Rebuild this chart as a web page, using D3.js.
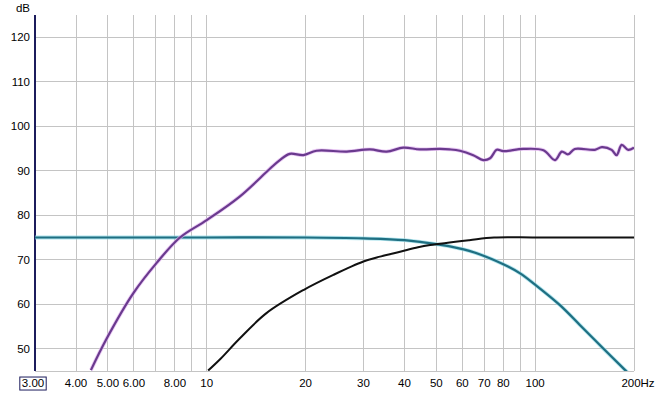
<!DOCTYPE html>
<html>
<head>
<meta charset="utf-8">
<script src="https://cdn.jsdelivr.net/npm/d3@7"></script>
<style>
  body { margin: 0; background: #fff; }
  text { font-family: "Liberation Sans", Arial, sans-serif; font-size: 11.5px; fill: #000; }
</style>
</head>
<body>
<div id="chart"></div>
<script>
// measured response (purple), Hz / dB
var measFreq = [4.44, 4.96, 5.98, 7.04, 8.29, 10, 12.6, 15.6, 16.7, 17.9, 19.7, 21.6, 26.7, 31.4, 35.3, 39.7, 44.6, 51.3, 55, 59, 64.8, 69.5, 72.9, 76.4, 80, 92, 106, 115, 120.5, 126, 132, 152, 159.6, 171, 177, 183.5, 192, 200];
var measDb   = [45.2, 52.3, 62.5, 69.3, 75.0, 78.9, 84.2, 90.5, 92.4, 93.8, 93.5, 94.5, 94.3, 94.8, 94.3, 95.2, 94.8, 94.9, 94.8, 94.5, 93.5, 92.4, 92.8, 94.7, 94.4, 94.9, 94.6, 92.4, 94.3, 93.7, 94.9, 94.7, 95.3, 94.7, 93.5, 95.8, 94.7, 95.2];

// high-pass target (black)
var hpFreq = [10.1, 11, 12.6, 15.2, 19.7, 24.3, 30, 33.7, 38.8, 44, 47.9, 63, 75, 100, 150, 200];
var hpDb   = [45.1, 47.7, 52.3, 58.0, 63.2, 66.6, 69.6, 70.7, 71.8, 72.8, 73.3, 74.4, 75.0, 75.0, 75.0, 75.0];

// low-pass target (teal)
var lpFreq = [3, 5, 10, 20, 30, 40, 50, 63, 80, 90, 100, 119, 137, 161, 188, 200];
var lpDb   = [75, 75, 75, 75, 74.8, 74.4, 73.5, 72.0, 69.0, 66.95, 64.4, 59.8, 55.3, 50.1, 45.2, 43.2];

var xTicks = [3, 4, 5, 6, 8, 10, 20, 30, 40, 50, 60, 70, 80, 100, 200];
var xTickLabels = ["3.00", "4.00", "5.00", "6.00", "8.00", "10", "20", "30", "40", "50", "60", "70", "80", "100", "200Hz"];
var xGrid = [4, 5, 6, 7, 8, 9, 10, 20, 30, 40, 50, 60, 70, 80, 90, 100, 200];
var yTicks = [50, 60, 70, 80, 90, 100, 110, 120];

var W = 668, H = 393;
var margin = {top: 15, right: 34, bottom: 22, left: 35};
var width = W - margin.left - margin.right,
    height = H - margin.top - margin.bottom;

var svg = d3.select("#chart").append("svg")
  .attr("width", W)
  .attr("height", H);

var g = svg.append("g")
  .attr("transform", "translate(" + margin.left + "," + margin.top + ")");

var x = d3.scaleLog().domain([3, 200]).range([0, width]);
var y = d3.scaleLinear().domain([45, 125]).range([height, 0]);

// grid
g.selectAll(".vgrid")
  .data(xGrid)
  .enter().append("line")
    .attr("x1", function(d) { return x(d); })
    .attr("x2", function(d) { return x(d); })
    .attr("y1", 0)
    .attr("y2", height)
    .attr("stroke", "#c4c4c4")
    .attr("stroke-width", 1)
    .attr("shape-rendering", "crispEdges");

g.selectAll(".hgrid")
  .data(yTicks.concat([45]))
  .enter().append("line")
    .attr("x1", 0)
    .attr("x2", width)
    .attr("y1", function(d) { return y(d); })
    .attr("y2", function(d) { return y(d); })
    .attr("stroke", "#c4c4c4")
    .attr("stroke-width", 1)
    .attr("shape-rendering", "crispEdges");

// left axis line
g.append("line")
  .attr("x1", 0).attr("x2", 0)
  .attr("y1", 0).attr("y2", height)
  .attr("stroke", "#1c1c5c")
  .attr("stroke-width", 2);

// y labels
g.selectAll(".ylab")
  .data(yTicks)
  .enter().append("text")
    .attr("x", -5)
    .attr("y", function(d) { return y(d); })
    .attr("dy", "0.35em")
    .attr("text-anchor", "end")
    .text(function(d) { return d; });

svg.append("text")
  .attr("x", 30)
  .attr("y", 12)
  .attr("text-anchor", "end")
  .text("dB");

// x labels
var xl = g.selectAll(".xlab")
  .data(xTicks)
  .enter().append("text")
    .attr("x", function(d) { return x(d); })
    .attr("y", height + 12)
    .attr("dy", "0.35em")
    .attr("text-anchor", "middle")
    .attr("dx", function(d, i) { return i == 0 ? -2 : (i == xTicks.length - 1 ? 4 : 0); })
    .text(function(d, i) { return xTickLabels[i]; });

// box round the first label
var firstBox = xl.filter(function(d, i) { return i == 0; }).node().getBBox();
g.append("rect")
  .attr("x", firstBox.x - 2)
  .attr("y", firstBox.y)
  .attr("width", firstBox.width + 4)
  .attr("height", firstBox.height + 1)
  .attr("fill", "none")
  .attr("stroke", "#1c1c5c")
  .attr("stroke-width", 1);

// curves
g.append("clipPath").attr("id", "clip")
  .append("rect").attr("x", 0).attr("y", 0).attr("width", width).attr("height", height);

var line = d3.line()
  .x(function(d) { return x(d[0]); })
  .y(function(d) { return y(d[1]); })
  .curve(d3.curveCatmullRom.alpha(0.5));

var series = [
  {f: lpFreq, v: lpDb, color: "#1f6f82", halo: "#8fd8e6", w: 2.2},
  {f: hpFreq, v: hpDb, color: "#111111", halo: null, w: 2},
  {f: measFreq, v: measDb, color: "#6a3a8e", halo: "#e0b0f0", w: 2.2}
];

var plot = g.append("g").attr("clip-path", "url(#clip)");

series.forEach(function(s) {
  var pts = s.f.map(function(f, i) { return [f, s.v[i]]; });
  if (s.halo) {
    plot.append("path")
      .attr("d", line(pts))
      .attr("fill", "none")
      .attr("stroke", s.halo)
      .attr("stroke-width", s.w + 1.6)
      .attr("stroke-opacity", 0.7);
  }
  plot.append("path")
    .attr("d", line(pts))
    .attr("fill", "none")
    .attr("stroke", s.color)
    .attr("stroke-width", s.w)
    .attr("stroke-linejoin", "round");
});
</script>
</body>
</html>
